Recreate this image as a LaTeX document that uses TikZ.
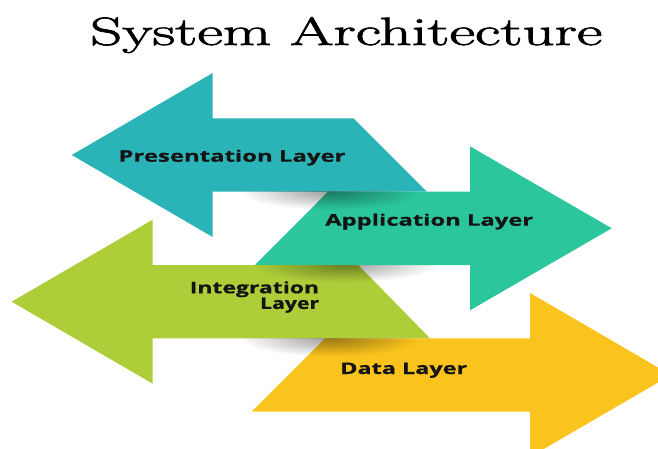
\documentclass[tikz,border=0pt]{standalone}
\usepackage{fontspec}
\usepackage{graphicx}
\usetikzlibrary{fadings}
\newfontfamily\labelfont[BoldFeatures={FakeBold=0.6}]{Open Sans}
\newfontfamily\titlefont[FakeBold=1.6]{Latin Modern Roman}

\definecolor{presteal}{RGB}{43,180,183}
\definecolor{appgreen}{RGB}{43,198,155}
\definecolor{intlime}{RGB}{173,205,57}
\definecolor{datayellow}{RGB}{250,195,30}
\definecolor{labelink}{RGB}{20,20,20}

\tikzfading[name=softblob, inner color=transparent!0, outer color=transparent!100]

\tikzset{
  layerarrow/.style={draw=none},
  layerlabel/.style={inner sep=0pt, text=labelink,
    font=\labelfont\bfseries\fontsize{16}{14}\selectfont},
  castshadow/.style={fill=black, opacity=0.38, path fading=softblob}
}

% wide text: stretch a label horizontally to a given width
\newcommand{\widelabel}[2]{\resizebox{#1}{\height}{#2}}

\begin{document}
\begin{tikzpicture}[x=1pt,y=-1pt]
  \useasboundingbox (0,0) rectangle (658,449);
  \clip (0,0) rectangle (658,449);

  % title
  \node[inner sep=0pt, anchor=base west, text=black] (title) at (90,45)
    {\widelabel{512pt}{\titlefont\fontsize{39.5}{40}\selectfont System Architecture}};

  % presentation layer: arrow pointing left
  \fill[layerarrow, presteal]
    (71.7,155) -- (212.7,73) -- (212.7,118.3) -- (353.3,118.3)
    -- (426.7,191.7) -- (212.7,191.7) -- (212.7,237) -- cycle;

  % application layer: arrow pointing right
  \fill[layerarrow, appgreen]
    (611.7,228.3) -- (470,146.3) -- (470,191.7) -- (328,191.7)
    -- (255,265) -- (470,265) -- (470,310.3) -- cycle;

  % integration layer: arrow pointing left
  \fill[layerarrow, intlime]
    (11.7,301.7) -- (152.7,219.7) -- (152.7,265) -- (358.3,265)
    -- (430,338.3) -- (152.7,338.3) -- (152.7,383.7) -- cycle;

  % data layer: arrow pointing right
  \fill[layerarrow, datayellow]
    (671,375) -- (530,293) -- (530,338.3) -- (325,338.3)
    -- (251.7,411.7) -- (530,411.7) -- (530,457) -- cycle;

  % soft shadows where one layer meets the next
  \begin{scope}
    \clip (200,191.7) rectangle (440,218);
    \fill[castshadow] (330,191.7) ellipse [x radius=90pt, y radius=18pt];
  \end{scope}
  \begin{scope}
    \clip (200,265) rectangle (440,292);
    \fill[castshadow] (345,265) ellipse [x radius=92pt, y radius=17pt];
  \end{scope}
  \begin{scope}
    \clip (200,338.3) rectangle (440,365);
    \fill[castshadow] (330,338.3) ellipse [x radius=90pt, y radius=18pt];
  \end{scope}

  % labels
  \node[layerlabel, anchor=base west] (pres) at (118.3,161.7)
    {\widelabel{227pt}{Presentation Layer}};
  \node[layerlabel, anchor=base west] (app) at (325,225.7)
    {\widelabel{208pt}{Application Layer}};
  \node[layerlabel, anchor=base east] (integ) at (319.3,293.3)
    {\begin{tabular}[t]{@{}r@{}}\widelabel{129.3pt}{Integration}\\
      \widelabel{59pt}{Layer}\end{tabular}};
  \node[layerlabel, anchor=base west] (data) at (340,374)
    {\widelabel{127pt}{Data Layer}};
\end{tikzpicture}
\end{document}
